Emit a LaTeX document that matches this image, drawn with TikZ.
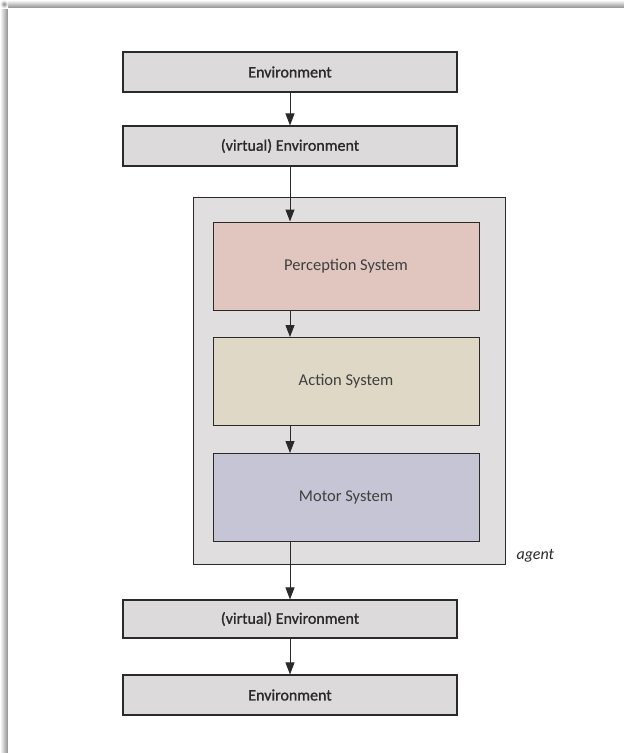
\documentclass[tikz,border=0pt]{standalone}
\usepackage{fontspec}
\setmainfont{Carlito}
\newfontfamily\labelheavy[FakeBold=1.2]{Carlito}
\usetikzlibrary{arrows.meta}
\definecolor{envgray}{HTML}{DCDADA}
\definecolor{agentgray}{HTML}{E0DEDF}
\definecolor{perc}{HTML}{E0C6BF}
\definecolor{act}{HTML}{DFD8C7}
\definecolor{motor}{HTML}{C6C5D5}
\definecolor{ink}{HTML}{2A2A2A}
\begin{document}
\begin{tikzpicture}[x=1pt,y=-1pt,
  box/.style={draw=ink,line width=1.1pt,minimum width=334pt,minimum height=40pt,
    fill=envgray,text=ink,font=\fontsize{16}{18}\labelheavy,inner sep=0pt},
  sysbox/.style={draw=ink,line width=1pt,minimum width=266pt,minimum height=88pt,
    text=ink!90,font=\fontsize{16.5}{18}\selectfont,inner sep=0pt},
  flow/.style={draw=ink,line width=1pt,-{Triangle[length=12pt,width=9pt]}}]
  \useasboundingbox (0,0) rectangle (624,753);
  % page with soft drop shadow along the top and left edges
  \fill[white] (0,0) rectangle (624,753);
  \shade[top color=white,bottom color=black!45] (8,0) rectangle (624,8);
  \shade[left color=white,right color=black!45] (0,8) rectangle (8,753);
  \shade[inner color=black!45,outer color=white] (0,0) rectangle (8,8);
  \fill[white] (8,8) rectangle (624,753);

  % agent container
  \node[draw=ink,line width=1pt,fill=agentgray,minimum width=312pt,minimum height=367pt,
    inner sep=0pt] (agent) at (349,380.5) {};
  \node[font=\fontsize{16}{18}\selectfont\itshape,text=ink,anchor=west] (agentlabel)
    at (513,556) {agent};

  \node[box] (env1) at (290,72) {Environment};
  \node[box] (venv1) at (290,146) {(virtual) Environment};
  \node[sysbox,fill=perc] (perception) at (346,266) {Perception System};
  \node[sysbox,fill=act] (action) at (346,381.5) {Action System};
  \node[sysbox,fill=motor] (motorsys) at (346,497.5) {Motor System};
  \node[box,minimum height=38pt] (venv2) at (290,619) {(virtual) Environment};
  \node[box] (env2) at (290,695) {Environment};

  \draw[flow] (env1) -- (venv1);
  \draw[flow] (venv1.south) -- (venv1.south |- perception.north);
  \draw[flow] (perception.south -| venv1.south) -- (venv1.south |- action.north);
  \draw[flow] (action.south -| venv1.south) -- (venv1.south |- motorsys.north);
  \draw[flow] (motorsys.south -| venv1.south) -- (venv2.north);
  \draw[flow] (venv2) -- (env2);
\end{tikzpicture}
\end{document}
